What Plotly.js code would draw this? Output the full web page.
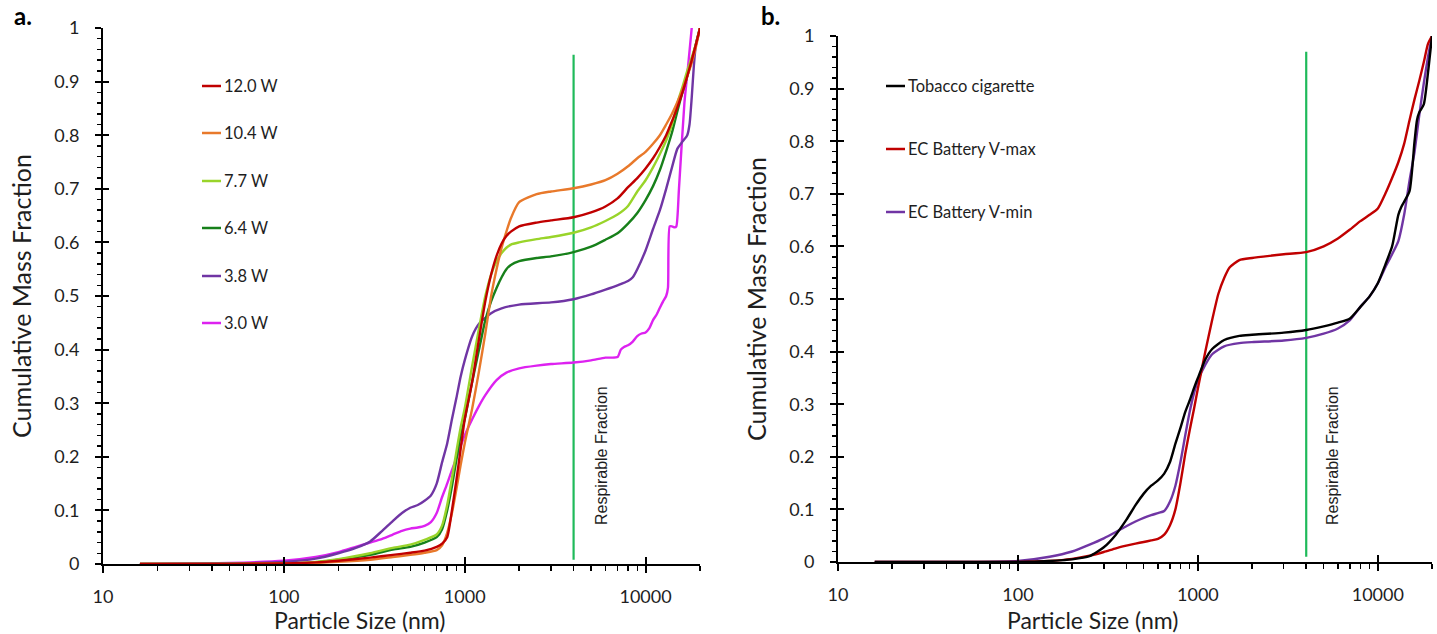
<!DOCTYPE html>
<html><head><meta charset="utf-8">
<script src="https://cdn.plot.ly/plotly-3.0.1.min.js"></script>
<style>html,body{margin:0;padding:0;background:#fff}#chart{width:1437px;height:634px}</style>
</head><body><div id="chart"></div>
<script>
// ---------- DATA ----------
const xTickVals = [10, 100, 1000, 10000];
const xTickText = ['10', '100', '1000', '10000'];
const yTickVals = [0, 0.1, 0.2, 0.3, 0.4, 0.5, 0.6, 0.7, 0.8, 0.9, 1];
const yTickText = ['0', '0.1', '0.2', '0.3', '0.4', '0.5', '0.6', '0.7', '0.8', '0.9', '1'];
const xTitle = 'Particle Size (nm)';
const yTitle = 'Cumulative Mass Fraction';

// Panel a: power settings
const sizeGridA = [16, 50, 100, 150, 200, 300, 400, 500, 600, 700, 750, 800, 850, 900, 950, 1000, 1100, 1200, 1300, 1400, 1500, 1600, 1700, 1800, 2000, 2500, 3000, 4000, 5000, 6000, 7000, 8000, 9000, 10000, 11000, 12000, 13000, 14000, 15000, 16000, 17000, 18000, 19000, 20000];
const mass12W = [0, 0, 0.001, 0.003, 0.006, 0.012, 0.017, 0.021, 0.025, 0.032, 0.038, 0.05, 0.1, 0.157, 0.215, 0.27, 0.34, 0.42, 0.49, 0.54, 0.575, 0.598, 0.612, 0.62, 0.63, 0.637, 0.641, 0.647, 0.656, 0.667, 0.682, 0.703, 0.72, 0.738, 0.757, 0.778, 0.80, 0.826, 0.852, 0.88, 0.91, 0.94, 0.97, 1.0];
const mass104W = [0, 0, 0.001, 0.002, 0.004, 0.008, 0.013, 0.017, 0.021, 0.026, 0.035, 0.058, 0.095, 0.14, 0.185, 0.225, 0.29, 0.36, 0.43, 0.5, 0.55, 0.59, 0.62, 0.645, 0.675, 0.69, 0.695, 0.701, 0.708, 0.716, 0.728, 0.742, 0.757, 0.769, 0.784, 0.80, 0.82, 0.84, 0.862, 0.885, 0.91, 0.935, 0.965, 1.0];
const mass77W = [0, 0, 0.001, 0.004, 0.009, 0.02, 0.03, 0.036, 0.045, 0.055, 0.072, 0.11, 0.16, 0.21, 0.255, 0.29, 0.37, 0.44, 0.5, 0.54, 0.565, 0.58, 0.59, 0.596, 0.60, 0.606, 0.61, 0.618, 0.628, 0.64, 0.652, 0.668, 0.695, 0.716, 0.74, 0.765, 0.79, 0.82, 0.86, 0.89, 0.92, 0.945, 0.97, 1.0];
const mass64W = [0, 0, 0.001, 0.003, 0.008, 0.017, 0.027, 0.032, 0.04, 0.05, 0.065, 0.1, 0.145, 0.195, 0.24, 0.27, 0.34, 0.40, 0.455, 0.49, 0.515, 0.535, 0.55, 0.558, 0.565, 0.571, 0.574, 0.582, 0.592, 0.605, 0.617, 0.635, 0.655, 0.679, 0.705, 0.735, 0.77, 0.805, 0.845, 0.88, 0.91, 0.94, 0.97, 1.0];
const size38W = [16, 50, 100, 150, 200, 250, 300, 350, 400, 450, 500, 550, 600, 650, 700, 750, 800, 850, 900, 950, 1000, 1100, 1200, 1400, 1600, 2000, 3000, 4000, 5000, 6000, 7000, 8000, 8500, 9000, 10000, 11000, 12000, 13000, 14000, 15000, 16000, 17000, 17500, 18000, 18500, 19000, 20000];
const mass38W = [0, 0.001, 0.004, 0.01, 0.02, 0.03, 0.042, 0.062, 0.08, 0.095, 0.105, 0.11, 0.118, 0.128, 0.15, 0.19, 0.225, 0.27, 0.31, 0.35, 0.38, 0.425, 0.448, 0.468, 0.477, 0.484, 0.488, 0.494, 0.503, 0.512, 0.52, 0.528, 0.535, 0.55, 0.585, 0.625, 0.66, 0.70, 0.74, 0.775, 0.788, 0.80, 0.82, 0.87, 0.93, 0.97, 1.0];
const size30W = [16, 50, 100, 150, 200, 250, 300, 350, 400, 450, 500, 550, 600, 650, 700, 750, 800, 850, 900, 1000, 1100, 1200, 1300, 1500, 1700, 2000, 2500, 3000, 4000, 5000, 6000, 7000, 7300, 7600, 8000, 8500, 9000, 9500, 10000, 10500, 11000, 11500, 12000, 12500, 13000, 13300, 13600, 14000, 14500, 14800, 15300, 16400, 17200, 18000];
const mass30W = [0, 0.002, 0.006, 0.013, 0.022, 0.032, 0.04, 0.047, 0.055, 0.062, 0.066, 0.068, 0.071, 0.078, 0.095, 0.125, 0.15, 0.175, 0.198, 0.24, 0.27, 0.295, 0.315, 0.343, 0.357, 0.365, 0.37, 0.373, 0.376, 0.38, 0.385, 0.386, 0.4, 0.405, 0.408, 0.415, 0.425, 0.43, 0.432, 0.44, 0.455, 0.465, 0.478, 0.49, 0.5, 0.515, 0.63, 0.63, 0.628, 0.63, 0.70, 0.86, 0.93, 1.0];

const seriesA = ['12.0 W', '10.4 W', '7.7 W', '6.4 W', '3.8 W', '3.0 W'];

// Panel b: tobacco vs e-cigarette
const sizeTobacco = [16, 100, 150, 200, 250, 300, 350, 400, 450, 500, 550, 600, 650, 700, 750, 800, 850, 900, 950, 1000, 1100, 1200, 1400, 1700, 2000, 3000, 4000, 5000, 6000, 7000, 8000, 9000, 10000, 11000, 12000, 12500, 13000, 13500, 14000, 15000, 16000, 16500, 17000, 18000, 19000, 20000];
const massTobacco = [0, 0, 0.002, 0.005, 0.011, 0.028, 0.052, 0.08, 0.108, 0.13, 0.145, 0.155, 0.168, 0.19, 0.225, 0.255, 0.285, 0.307, 0.33, 0.35, 0.385, 0.405, 0.422, 0.43, 0.432, 0.436, 0.441, 0.448, 0.455, 0.463, 0.485, 0.505, 0.53, 0.565, 0.6, 0.63, 0.66, 0.675, 0.685, 0.705, 0.8, 0.84, 0.855, 0.87, 0.93, 1.0];
const sizeVmax = [16, 100, 150, 200, 250, 300, 350, 400, 450, 500, 550, 600, 650, 700, 750, 800, 850, 900, 950, 1000, 1100, 1200, 1300, 1400, 1500, 1700, 2000, 2500, 3000, 4000, 5000, 6000, 7000, 8000, 9000, 10000, 11000, 12000, 13000, 14000, 15000, 16000, 17000, 18000, 19000, 20000];
const massVmax = [0, 0, 0.002, 0.006, 0.012, 0.019, 0.026, 0.031, 0.035, 0.038, 0.041, 0.044, 0.052, 0.07, 0.1, 0.15, 0.205, 0.25, 0.29, 0.33, 0.4, 0.46, 0.51, 0.54, 0.56, 0.574, 0.578, 0.582, 0.585, 0.589, 0.6, 0.615, 0.632, 0.648, 0.66, 0.672, 0.7, 0.73, 0.76, 0.795, 0.84, 0.88, 0.915, 0.95, 0.985, 1.0];
const sizeVmin = [16, 50, 100, 150, 200, 250, 300, 350, 400, 450, 500, 550, 600, 650, 700, 750, 800, 850, 900, 950, 1000, 1100, 1200, 1400, 1700, 2000, 3000, 4000, 5000, 6000, 7000, 8000, 9000, 10000, 11000, 12000, 13000, 14000, 15000, 16000, 17000, 18000, 19000, 20000];
const massVmin = [0, 0, 0.002, 0.01, 0.02, 0.033, 0.045, 0.057, 0.068, 0.077, 0.084, 0.089, 0.093, 0.097, 0.115, 0.145, 0.19, 0.24, 0.285, 0.32, 0.345, 0.375, 0.395, 0.41, 0.416, 0.418, 0.421, 0.426, 0.434, 0.444, 0.46, 0.485, 0.505, 0.53, 0.56, 0.585, 0.61, 0.66, 0.725, 0.78, 0.85, 0.91, 0.96, 1.0];

const seriesB = ['Tobacco cigarette', 'EC Battery V-max', 'EC Battery V-min'];

// Respirable fraction cut-off marker (4 µm)
const respSize = [4000, 4000];
const respMassA = [0.008, 0.95];
const respMassB = [0.01, 0.97];
const respLabel = 'Respirable Fraction';

// ---------- STYLE ----------
const colorsA = ['#C00000', '#E8792B', '#99D42A', '#17801A', '#7035A4', '#DD22F0'];
const colorsB = ['#000000', '#C00000', '#7035A4'];
const greenLine = '#1FBA5A';
const W = 1437, H = 634;
const font = 'Lato, "Open Sans", sans-serif';
const txt = '#1e1e1e';

const dataA = [[sizeGridA, mass12W], [sizeGridA, mass104W], [sizeGridA, mass77W], [sizeGridA, mass64W], [size38W, mass38W], [size30W, mass30W]];
const dataB = [[sizeTobacco, massTobacco], [sizeVmax, massVmax], [sizeVmin, massVmin]];

const traces = [];
traces.push({x: respSize, y: respMassA, xaxis: 'x', yaxis: 'y', mode: 'lines', line: {color: greenLine, width: 2.2}, showlegend: false, hoverinfo: 'skip'});
traces.push({x: respSize, y: respMassB, xaxis: 'x2', yaxis: 'y2', mode: 'lines', line: {color: greenLine, width: 2.2}, showlegend: false, hoverinfo: 'skip'});
for (let i = dataA.length - 1; i >= 0; i--) {
  traces.push({x: dataA[i][0], y: dataA[i][1], name: seriesA[i], xaxis: 'x', yaxis: 'y', mode: 'lines', line: {color: colorsA[i], width: 2.4, shape: 'spline', smoothing: 0.6}, showlegend: false});
}
for (let i = dataB.length - 1; i >= 0; i--) {
  traces.push({x: dataB[i][0], y: dataB[i][1], name: seriesB[i], xaxis: 'x2', yaxis: 'y2', mode: 'lines', line: {color: colorsB[i], width: 2.4, shape: 'spline', smoothing: 0.6}, showlegend: false});
}
traces.push({x: [], y: [], xaxis: 'x3', yaxis: 'y', showlegend: false, hoverinfo: 'skip'});
traces.push({x: [], y: [], xaxis: 'x', yaxis: 'y3', showlegend: false, hoverinfo: 'skip'});
traces.push({x: [], y: [], xaxis: 'x4', yaxis: 'y2', showlegend: false, hoverinfo: 'skip'});
traces.push({x: [], y: [], xaxis: 'x2', yaxis: 'y4', showlegend: false, hoverinfo: 'skip'});

const minorX = [];
for (let d = 10; d <= 10000; d *= 10) for (let k = 2; k <= 9; k++) if (d * k <= 20000) minorX.push(d * k);
const minorY = [];
for (let v = 0.02; v < 1; v += 0.02) minorY.push(Math.round(v * 100) / 100);

const xRange = [1, Math.log10(20000)];

function xAxis(domain, anchor) {
  return {
    type: 'log', range: xRange, domain: domain, anchor: anchor,
    showline: true, linecolor: '#000', linewidth: 2, mirror: false,
    showgrid: false, zeroline: false,
    ticks: 'outside', ticklen: 7, tickwidth: 2, tickcolor: '#000',
    tickmode: 'array', tickvals: xTickVals.concat([20000]), ticktext: xTickText.concat(['']),
    ticklabelstandoff: 8,
    tickfont: {family: font, size: 18, color: txt},
    minor: {ticks: 'outside', ticklen: 5, tickwidth: 1.5, tickcolor: '#000', tickmode: 'array', tickvals: minorX, showgrid: false},
    automargin: false
  };
}
function yAxis(domain, anchor) {
  return {
    range: [0, 1], domain: domain, anchor: anchor,
    showline: true, linecolor: '#000', linewidth: 2,
    showgrid: false, zeroline: false,
    ticks: 'outside', ticklen: 6, tickwidth: 2, tickcolor: '#000',
    tickmode: 'array', tickvals: yTickVals, ticktext: yTickText,
    ticklabelstandoff: 12,
    tickfont: {family: font, size: 18, color: txt},
    minor: {ticks: 'outside', ticklen: 4, tickwidth: 1.5, tickcolor: '#000', tickmode: 'array', tickvals: minorY, showgrid: false},
    title: {text: yTitle, font: {family: font, size: 25, color: txt}, standoff: 16},
    automargin: false
  };
}
function insideX(over, anchor) {
  return {type: 'log', range: xRange, overlaying: over, anchor: anchor, showline: false, showgrid: false, zeroline: false,
    ticks: 'inside', ticklen: 7, tickwidth: 2, tickcolor: '#000', tickmode: 'array', tickvals: xTickVals, showticklabels: false};
}
function insideY(over, anchor) {
  return {range: [0, 1], overlaying: over, anchor: anchor, showline: false, showgrid: false, zeroline: false,
    ticks: 'inside', ticklen: 6, tickwidth: 2, tickcolor: '#000', tickmode: 'array', tickvals: yTickVals, showticklabels: false};
}

const dxA = [103 / W, 700 / W];
const dyA = [(H - 564) / H, (H - 28) / H];
const dxB = [838 / W, 1432 / W];
const dyB = [(H - 562) / H, (H - 36) / H];

const shapes = [];
const annotations = [];
const legAy = [86, 133, 181, 228, 276, 323];
seriesA.forEach((name, i) => {
  shapes.push({type: 'line', xref: 'paper', yref: 'paper', x0: 202 / W, x1: 221 / W, y0: 1 - legAy[i] / H, y1: 1 - legAy[i] / H, line: {color: colorsA[i], width: 2.5}});
  annotations.push({xref: 'paper', yref: 'paper', x: 222 / W, y: 1 - legAy[i] / H, xanchor: 'left', yanchor: 'middle', text: name, showarrow: false, font: {family: font, size: 16.5, color: txt}});
});
const legBy = [86, 149, 212];
seriesB.forEach((name, i) => {
  shapes.push({type: 'line', xref: 'paper', yref: 'paper', x0: 886 / W, x1: 905 / W, y0: 1 - legBy[i] / H, y1: 1 - legBy[i] / H, line: {color: colorsB[i], width: 2.5}});
  annotations.push({xref: 'paper', yref: 'paper', x: 906 / W, y: 1 - legBy[i] / H, xanchor: 'left', yanchor: 'middle', text: name, showarrow: false, font: {family: font, size: 16.5, color: txt}});
});
annotations.push({xref: 'paper', yref: 'paper', x: 272 / W, y: 1 - 620 / H, xanchor: 'left', yanchor: 'middle', text: xTitle, showarrow: false, font: {family: font, size: 23, color: txt}});
annotations.push({xref: 'paper', yref: 'paper', x: 1005 / W, y: 1 - 620 / H, xanchor: 'left', yanchor: 'middle', text: xTitle, showarrow: false, font: {family: font, size: 23, color: txt}});
annotations.push({xref: 'paper', yref: 'paper', x: 23 / W, y: 1 - 16 / H, xanchor: 'center', yanchor: 'middle', text: '<b>a.</b>', showarrow: false, font: {family: font, size: 24, color: '#000'}});
annotations.push({xref: 'paper', yref: 'paper', x: 770 / W, y: 1 - 16 / H, xanchor: 'center', yanchor: 'middle', text: '<b>b.</b>', showarrow: false, font: {family: font, size: 24, color: '#000'}});
annotations.push({xref: 'paper', yref: 'paper', x: 601 / W, y: 1 - 456 / H, xanchor: 'center', yanchor: 'middle', text: respLabel, textangle: -90, showarrow: false, font: {family: '"Liberation Sans", Arial, sans-serif', size: 16, color: txt}});
annotations.push({xref: 'paper', yref: 'paper', x: 1332 / W, y: 1 - 456 / H, xanchor: 'center', yanchor: 'middle', text: respLabel, textangle: -90, showarrow: false, font: {family: '"Liberation Sans", Arial, sans-serif', size: 16, color: txt}});

const layout = {
  width: W, height: H,
  margin: {l: 0, r: 0, t: 0, b: 0, pad: 0},
  paper_bgcolor: '#fff', plot_bgcolor: 'rgba(0,0,0,0)',
  showlegend: false,
  xaxis: xAxis(dxA, 'y'),
  yaxis: yAxis(dyA, 'x'),
  xaxis2: xAxis(dxB, 'y2'),
  yaxis2: yAxis(dyB, 'x2'),
  xaxis3: insideX('x', 'y'),
  yaxis3: insideY('y', 'x'),
  xaxis4: insideX('x2', 'y2'),
  yaxis4: insideY('y2', 'x2'),
  shapes: shapes,
  annotations: annotations
};

Plotly.newPlot('chart', traces, layout, {displayModeBar: false, staticPlot: true});
</script></body></html>
